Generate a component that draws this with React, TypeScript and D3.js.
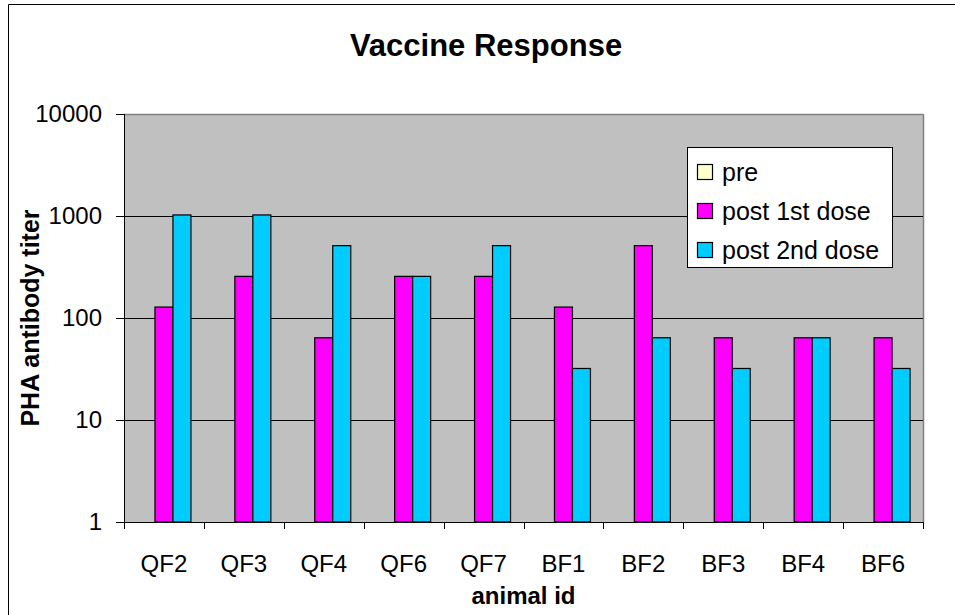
import React from "react";
import * as d3 from "d3";

const categories = ["QF2", "QF3", "QF4", "QF6", "QF7", "BF1", "BF2", "BF3", "BF4", "BF6"];
const seriesNames = ["pre", "post 1st dose", "post 2nd dose"];
const preValues = [1, 1, 1, 1, 1, 1, 1, 1, 1, 1];
const post1Values = [128, 256, 64, 256, 256, 128, 512, 64, 64, 64];
const post2Values = [1024, 1024, 512, 256, 512, 32, 64, 32, 64, 32];
const yTicks = [1, 10, 100, 1000, 10000];
const colors = ["#FFFFCC", "#FF00FF", "#00CCFF"];

const W = 955;
const H = 615;
const plot = { left: 124, right: 923, top: 114, bottom: 522 };
const FONT = "'Liberation Sans', Arial, sans-serif";

export default function App() {
  const series = [preValues, post1Values, post2Values];
  const x0 = d3.scaleBand<string>().domain(categories).range([plot.left, plot.right]).padding(0);
  const x1 = d3
    .scaleBand<number>()
    .domain([0, 1, 2])
    .range([0, x0.bandwidth()])
    .paddingInner(0)
    .paddingOuter(0.72);
  const y = d3.scaleLog().domain([1, 10000]).range([plot.bottom, plot.top]);

  const legendRows = seriesNames.map((name, i) => ({ name, color: colors[i], cy: 172 + i * 39 }));

  return (
    <svg
      width={W}
      height={H}
      style={{ position: "absolute", left: 0, top: 0, background: "#fff" }}
      fontFamily={FONT}
    >
      {/* outer chart border (top and left visible) */}
      <line x1={8.5} y1={4.5} x2={W} y2={4.5} stroke="#000" strokeWidth={1} />
      <line x1={8.5} y1={4.5} x2={8.5} y2={H} stroke="#000" strokeWidth={1} />

      {/* title */}
      <text x={486} y={56} textAnchor="middle" fontSize={31} fontWeight="bold" fill="#000">
        Vaccine Response
      </text>

      {/* plot area */}
      <rect
        x={plot.left}
        y={plot.top}
        width={plot.right - plot.left}
        height={plot.bottom - plot.top}
        fill="#C0C0C0"
      />
      <line x1={plot.left} y1={plot.top + 0.5} x2={plot.right} y2={plot.top + 0.5} stroke="#808080" strokeWidth={1.5} />
      <line x1={plot.right + 0.5} y1={plot.top} x2={plot.right + 0.5} y2={plot.bottom} stroke="#808080" strokeWidth={1.5} />

      {/* gridlines */}
      {yTicks
        .filter((t) => t !== 1 && t !== 10000)
        .map((t) => (
          <line
            key={"g" + t}
            x1={plot.left}
            x2={plot.right}
            y1={Math.round(y(t)) + 0.5}
            y2={Math.round(y(t)) + 0.5}
            stroke="#000"
            strokeWidth={1}
          />
        ))}

      {/* bars */}
      {categories.map((c, ci) => (
        <g key={c}>
          {series.map((vals, si) => {
            const v = vals[ci];
            const top = y(v);
            const h = plot.bottom - top;
            if (h <= 0) return null;
            return (
              <rect
                key={si}
                x={(x0(c) as number) + (x1(si) as number)}
                y={top}
                width={x1.bandwidth()}
                height={h}
                fill={colors[si]}
                stroke="#000"
                strokeWidth={1.2}
              />
            );
          })}
        </g>
      ))}

      {/* axes */}
      <line x1={plot.left + 0.5} y1={plot.top} x2={plot.left + 0.5} y2={plot.bottom} stroke="#000" strokeWidth={1} />
      <line x1={plot.left - 8} y1={plot.bottom + 0.5} x2={plot.right + 1} y2={plot.bottom + 0.5} stroke="#000" strokeWidth={1} />
      {yTicks.map((t) => (
        <g key={"yt" + t}>
          <line
            x1={plot.left - 8}
            x2={plot.left}
            y1={Math.round(y(t)) + 0.5}
            y2={Math.round(y(t)) + 0.5}
            stroke="#000"
          />
          <text x={102} y={y(t)} dy="0.35em" textAnchor="end" fontSize={24} fill="#000">
            {t}
          </text>
        </g>
      ))}
      {[...categories.map((c) => x0(c) as number), plot.right].map((xx, i) => (
        <line
          key={"xt" + i}
          x1={Math.round(xx) + 0.5}
          x2={Math.round(xx) + 0.5}
          y1={plot.bottom}
          y2={plot.bottom + 7}
          stroke="#000"
        />
      ))}
      {categories.map((c) => (
        <text
          key={"xl" + c}
          x={(x0(c) as number) + x0.bandwidth() / 2}
          y={572}
          textAnchor="middle"
          fontSize={24}
          fill="#000"
        >
          {c}
        </text>
      ))}

      {/* axis titles */}
      <text
        x={(plot.left + plot.right) / 2}
        y={604}
        textAnchor="middle"
        fontSize={24}
        fontWeight="bold"
        fill="#000"
      >
        animal id
      </text>
      <text
        transform={`translate(39, ${(plot.top + plot.bottom) / 2}) rotate(-90)`}
        textAnchor="middle"
        fontSize={25}
        fontWeight="bold"
        fill="#000"
      >
        PHA antibody titer
      </text>

      {/* legend */}
      <rect x={687.5} y={147.5} width={205} height={120} fill="#fff" stroke="#000" strokeWidth={1} />
      {legendRows.map((r) => (
        <g key={r.name}>
          <rect x={697.5} y={r.cy - 7.5} width={15} height={15} fill={r.color} stroke="#000" strokeWidth={1.2} />
          <text x={722} y={r.cy} dy="0.35em" fontSize={25} fill="#000">
            {r.name}
          </text>
        </g>
      ))}
    </svg>
  );
}
